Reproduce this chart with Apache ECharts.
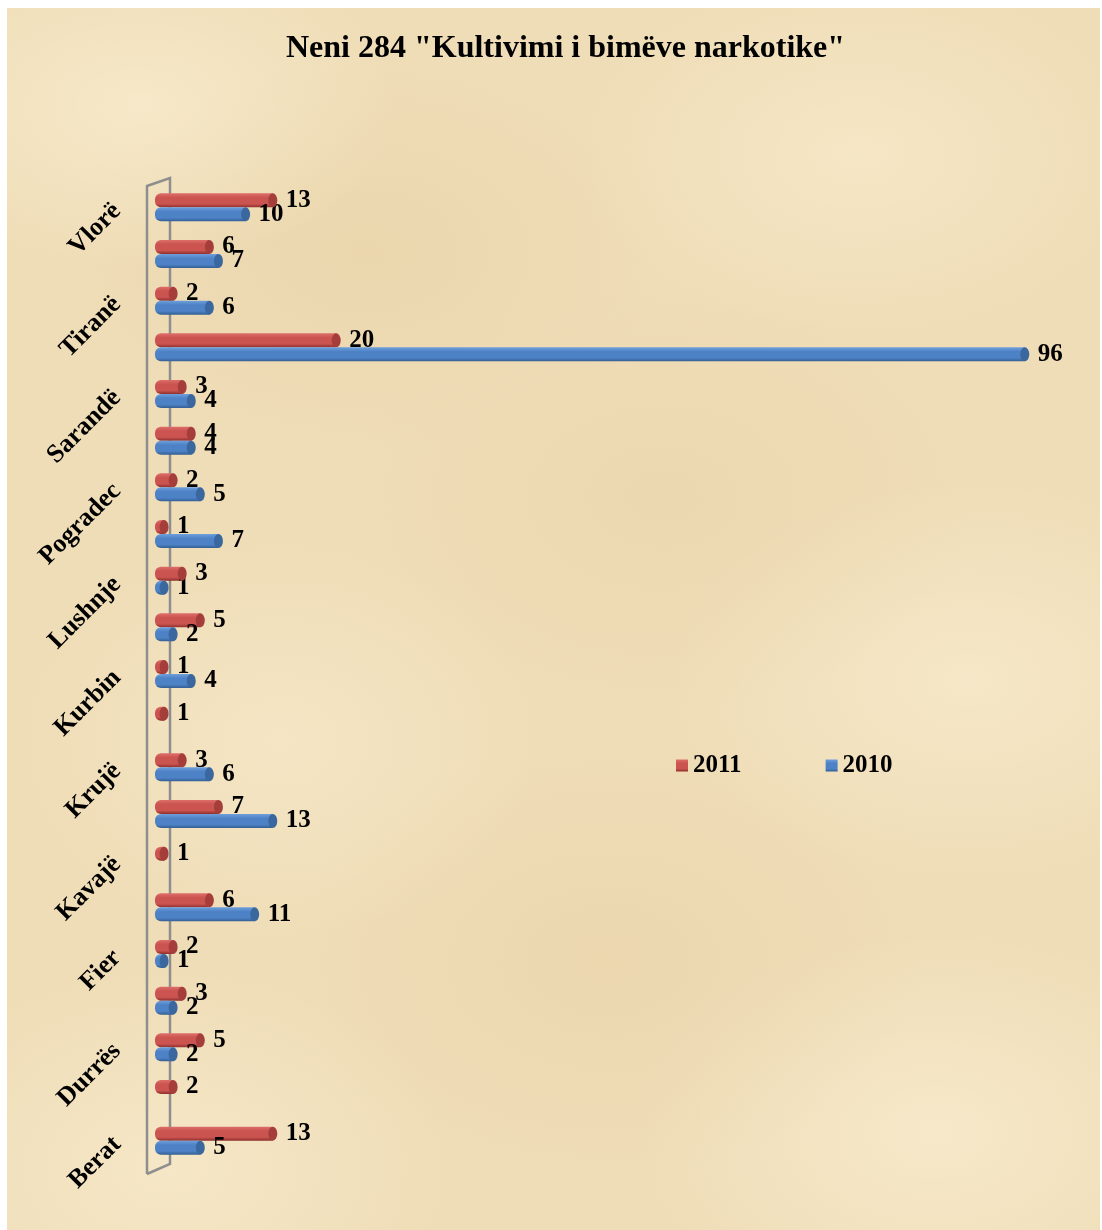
<!DOCTYPE html>
<html>
<head>
<meta charset="utf-8">
<script src="https://cdn.jsdelivr.net/npm/echarts@6/dist/echarts.min.js"></script>
<style>
  html, body { margin: 0; padding: 0; background: #ffffff; }
  #wrap { position: relative; width: 1102px; height: 1230px; background: #ffffff; overflow: hidden; }
  #paper {
    position: absolute; left: 7px; top: 8px; width: 1093px; height: 1222px;
    background-color: #EFDDB7;
    background-image:
      radial-gradient(ellipse 260px 160px at 12% 8%, rgba(255,246,222,0.45), rgba(255,246,222,0) 100%),
      radial-gradient(ellipse 300px 200px at 33% 20%, rgba(220,192,140,0.22), rgba(220,192,140,0) 100%),
      radial-gradient(ellipse 280px 180px at 78% 12%, rgba(255,244,218,0.4), rgba(255,244,218,0) 100%),
      radial-gradient(ellipse 320px 220px at 60% 40%, rgba(222,196,146,0.2), rgba(222,196,146,0) 100%),
      radial-gradient(ellipse 300px 200px at 88% 55%, rgba(255,246,224,0.4), rgba(255,246,224,0) 100%),
      radial-gradient(ellipse 260px 200px at 25% 60%, rgba(255,244,220,0.35), rgba(255,244,220,0) 100%),
      radial-gradient(ellipse 320px 220px at 55% 78%, rgba(220,190,140,0.2), rgba(220,190,140,0) 100%),
      radial-gradient(ellipse 300px 200px at 85% 92%, rgba(255,246,224,0.45), rgba(255,246,224,0) 100%),
      radial-gradient(ellipse 280px 200px at 15% 95%, rgba(255,245,222,0.4), rgba(255,245,222,0) 100%);
  }
  #main { position: absolute; left: 0; top: 0; width: 1102px; height: 1230px; }
</style>
</head>
<body>
<div id="wrap">
  <div id="paper"></div>
  <div id="main"></div>
</div>
<script>
// ---- data (bottom to top, as in the chart) ----
const categories = ['Berat','Dibër','Durrës','Elbasan','Fier','Gjirokastër','Kavajë','Korçë','Krujë','Kukës','Kurbin','Lezhë','Lushnje','Mat','Pogradec','Pukë','Sarandë','Shkodër','Tiranë','Tropojë','Vlorë'];
const values2011 = [13, 2, 5, 3, 2, 6, 1, 7, 3, 1, 1, 5, 3, 1, 2, 4, 3, 20, 2, 6, 13];
const values2010 = [5, null, 2, 2, 1, 11, null, 13, 6, null, 4, 2, 1, 7, 5, 4, 4, 96, 6, 7, 10];
const seriesNames = ['2011', '2010'];
const titleText = 'Neni 284 "Kultivimi i bimëve narkotike"';

const FONT = '"Liberation Serif", "Times New Roman", serif';
const RED = '#C0504D', BLUE = '#4F81BD';

function cyl(top, mid, bot) {
  return new echarts.graphic.LinearGradient(0, 0, 0, 1, [
    { offset: 0, color: top },
    { offset: 0.3, color: mid },
    { offset: 0.75, color: mid },
    { offset: 1, color: bot }
  ]);
}

const labelStyle = {
  show: true, position: 'right', distance: 13,
  fontFamily: FONT, fontWeight: 'bold', fontSize: 25, color: '#000'
};

const chart = echarts.init(document.getElementById('main'), null, { renderer: 'canvas' });

const option = {
  backgroundColor: 'transparent',
  animation: false,
  title: {
    text: titleText, left: 281, top: 28,
    textStyle: { fontFamily: FONT, fontWeight: 'bold', fontSize: 32, color: '#000' }
  },
  legend: {
    data: seriesNames, left: 671, top: 748, icon: 'rect', itemWidth: 12, itemHeight: 12, itemGap: 84,
    textStyle: { fontFamily: FONT, fontWeight: 'bold', fontSize: 25, color: '#000' }
  },
  grid: { left: 155, top: 184, width: 906, height: 980, containLabel: false },
  xAxis: {
    type: 'value', min: 0, max: 100, show: false
  },
  yAxis: {
    type: 'category', data: categories,
    axisLine: { show: false }, axisTick: { show: false },
    axisLabel: {
      interval: 1, rotate: 45, margin: 38,
      fontFamily: FONT, fontWeight: 'bold', fontSize: 26, color: '#000'
    }
  },
  series: [
    {
      name: seriesNames[0], type: 'bar', data: values2011, barWidth: 14, barGap: '0%',
      itemStyle: { color: cyl('#DE6E6A', '#CB5450', '#8E2F2C'), borderRadius: [6, 0, 0, 6] },
      label: labelStyle, z: 2
    },
    {
      name: seriesNames[1], type: 'bar', data: values2010, barWidth: 14, barGap: '0%',
      itemStyle: { color: cyl('#6FA0DC', '#4E82C6', '#335E93'), borderRadius: [6, 0, 0, 6] },
      label: labelStyle, z: 2
    },
    {
      name: seriesNames[0], type: 'pictorialBar', data: values2011, barWidth: 14, barGap: '0%',
      symbol: 'circle', symbolSize: [9, 14], symbolPosition: 'end', symbolOffset: ['50%', 0],
      itemStyle: { color: '#A53E3B' }, z: 3, silent: true
    },
    {
      name: seriesNames[1], type: 'pictorialBar', data: values2010, barWidth: 14, barGap: '0%',
      symbol: 'circle', symbolSize: [9, 14], symbolPosition: 'end', symbolOffset: ['50%', 0],
      itemStyle: { color: '#3B679F' }, z: 3, silent: true
    }
  ],
  color: [RED, BLUE]
};
chart.setOption(option);

// 3D-like wall outline derived from grid rect
const rect = chart.getModel().getComponent('grid').coordinateSystem.getRect();
const fx = rect.x - 8, bx = rect.x + 15;
const lineStyle = { stroke: '#8E8E8E', lineWidth: 2.5, fill: null };
chart.setOption({
  graphic: [
    { type: 'polyline', z: -1, shape: { points: [[fx, rect.y + rect.height + 10], [fx, rect.y + 2], [bx, rect.y - 6], [bx, rect.y + rect.height], [fx, rect.y + rect.height + 10]] }, style: lineStyle }
  ]
});
</script>
</body>
</html>
